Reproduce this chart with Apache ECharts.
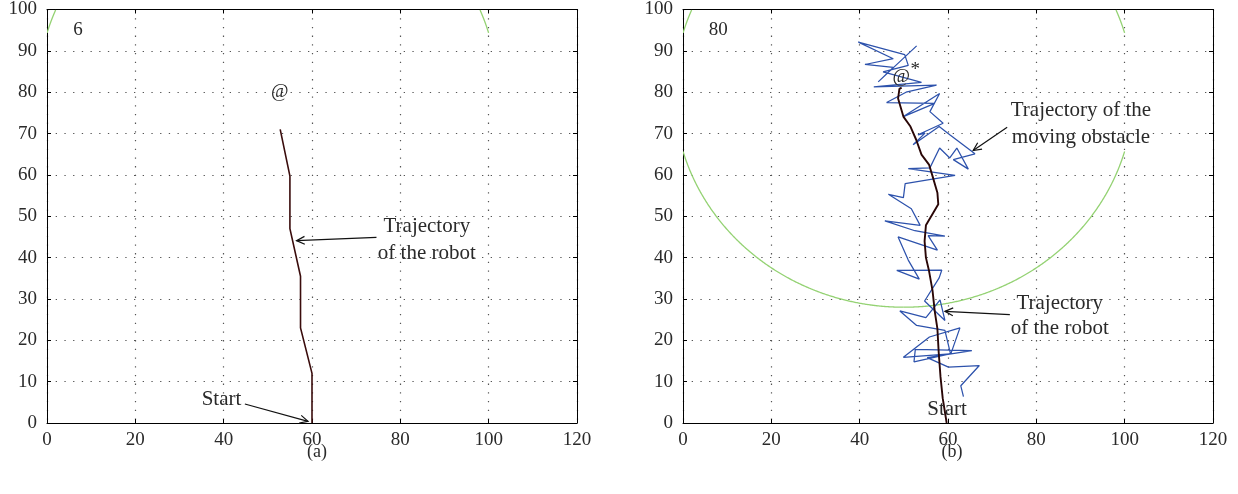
<!DOCTYPE html>
<html>
<head>
<meta charset="utf-8">
<script src="https://cdn.jsdelivr.net/npm/echarts@6/dist/echarts.min.js"></script>
<style>
  html, body { margin: 0; padding: 0; background: #fff; }
  #chart { width: 1238px; height: 494px; }
</style>
</head>
<body>
<div id="chart"></div>
<script>
// ---- data -------------------------------------------------------------
// Robot path at step 6 (panel a)
const robotPathA = [
  [60, 0], [60, 12], [57.4, 23], [57.4, 35.5], [55, 47], [55, 59.7], [52.8, 71]
];
// Robot path at step 80 (panel b)
const robotPathB = [
  [59.7, 0], [58.8, 6], [58.3, 11.2], [57.9, 17], [57.6, 22.8], [57.0, 27],
  [56.5, 32], [55.7, 36.8], [55.0, 40], [54.7, 44], [55.0, 47.8], [57.8, 52.9],
  [57.6, 55.7], [56.5, 59.7], [55.7, 62.5], [54.0, 64.9], [52.8, 68.5],
  [51.5, 71.7], [49.9, 74.1], [48.7, 78.5], [49.0, 80.8], [49.5, 81.1]
];
// Moving obstacle path (panel b)
const obstaclePath = [
  [63.5, 6.4], [62.9, 9.0], [67.1, 13.9], [60.1, 13.5], [55.3, 15.8], [65.4, 17.5],
  [52.6, 17.8], [52.3, 14.8], [60.4, 16.7], [49.9, 15.9], [55.8, 20.8], [62.7, 23.0],
  [60.6, 16.6], [59.3, 22.4], [52.9, 23.6], [49.1, 27.1], [55.0, 25.5], [58.2, 29.8],
  [59.3, 24.8], [54.7, 29.5], [58.0, 35.1], [58.6, 37.0], [48.4, 36.9], [53.5, 34.8],
  [51.0, 39.4], [48.7, 45.0], [57.6, 41.8], [55.5, 45.3], [59.3, 45.2], [52.5, 46.5],
  [45.7, 48.9], [53.7, 47.8], [51.7, 51.8], [46.5, 55.3], [49.9, 54.5], [50.3, 57.9],
  [61.6, 59.9], [51.0, 61.5], [55.9, 61.7], [58.1, 66.5], [60.4, 64.1], [62.0, 66.5],
  [64.6, 61.4], [61.2, 63.7], [66.1, 65.1], [60.4, 69.7], [58.0, 71.7], [52.1, 67.3],
  [54.8, 70.1], [53.2, 69.7], [58.9, 72.5], [55.9, 75.3], [58.1, 79.7], [49.9, 74.1],
  [57.0, 77.3], [46.1, 77.5], [50.5, 80.0], [57.4, 81.7], [43.2, 81.3], [54.0, 82.4],
  [45.3, 84.9], [51.0, 86.5], [50.2, 89.1], [39.7, 92.1], [47.6, 88.1], [41.2, 86.7],
  [47.6, 86.0], [44.2, 82.5], [52.9, 91.2]
];
// Circle around the target: centre and radius, shown for 0 <= x <= 100
const circleCenter = [50, 80];
const circleRadius = 52;

// Axis settings
const xRange = [0, 120];
const yRange = [0, 100];
const xStep = 20;
const yStep = 10;

// Text annotations: [x, y, text, fontSize]
const textsA = [
  [7, 95, '6', 19],
  [52.7, 80, '@', 19],
  [86, 47.5, 'Trajectory', 21],
  [86, 41, 'of the robot', 21],
  [39.5, 5.6, 'Start', 21]
];
const textsB = [
  [8, 95, '80', 19],
  [49.4, 83.7, '@', 19],
  [52.6, 85.3, '*', 19],
  [90.1, 75.5, 'Trajectory of the', 21],
  [90.1, 69.1, 'moving obstacle', 21],
  [85.3, 28.9, 'Trajectory', 21],
  [85.3, 22.9, 'of the robot', 21],
  [59.8, 3.2, 'Start', 21]
];
// Arrows: [fromX, fromY, toX, toY]
const arrowsA = [
  [74.6, 44.9, 56.5, 44.1],
  [44.8, 4.6, 59.1, 0.4]
];
const arrowsB = [
  [73.4, 71.5, 65.7, 65.9],
  [74.0, 26.2, 59.3, 27.0]
];
const panelNames = ['(a)', '(b)'];

// ---- rendering ----------------------------------------------------------
const FONT = '"Liberation Serif", "DejaVu Serif", serif';
const TEXT_COLOR = '#2a2a2a';
const chart = echarts.init(document.getElementById('chart'), null, { renderer: 'canvas' });

const gridDefs = [
  { left: 47, top: 7, width: 530, height: 416 },
  { left: 683, top: 7, width: 530, height: 416 }
];

function mainX(i) {
  return {
    gridIndex: i, type: 'value', min: xRange[0], max: xRange[1], interval: xStep,
    axisLine: { onZero: false, lineStyle: { color: '#000', width: 1 } },
    axisTick: { inside: true, length: 4, lineStyle: { color: '#000' } },
    axisLabel: { color: TEXT_COLOR, fontFamily: FONT, fontSize: 19, margin: 8 },
    splitLine: { show: true, lineStyle: { color: '#555', width: 1.2, type: [1.3, 7.4] } }
  };
}
function mainY(i) {
  return {
    gridIndex: i, type: 'value', min: yRange[0], max: yRange[1], interval: yStep,
    axisLine: { onZero: false, lineStyle: { color: '#000', width: 1 } },
    axisTick: { inside: true, length: 4, lineStyle: { color: '#000' } },
    axisLabel: { color: TEXT_COLOR, fontFamily: FONT, fontSize: 19, margin: 10 },
    splitLine: { show: true, lineStyle: { color: '#555', width: 1.2, type: [1.3, 7.4] } }
  };
}
function frameX(i) {
  return {
    gridIndex: i, type: 'value', position: 'top', min: xRange[0], max: xRange[1], interval: xStep,
    axisLine: { onZero: false, lineStyle: { color: '#000', width: 1 } },
    axisTick: { inside: true, length: 4, lineStyle: { color: '#000' } },
    axisLabel: { show: false }, splitLine: { show: false }
  };
}
function frameY(i) {
  return {
    gridIndex: i, type: 'value', position: 'right', min: yRange[0], max: yRange[1], interval: yStep,
    axisLine: { onZero: false, lineStyle: { color: '#000', width: 1 } },
    axisTick: { inside: true, length: 4, lineStyle: { color: '#000' } },
    axisLabel: { show: false }, splitLine: { show: false }
  };
}

// Circle drawn in data space; keeps the part with 0<=x<=100, y<=100 (and y>=minY)
function circleSeries(panel, minY) {
  return {
    type: 'custom', xAxisIndex: panel * 2, yAxisIndex: panel * 2,
    clip: true, silent: true, z: 2,
    data: [[circleCenter[0], circleCenter[1], circleRadius]],
    renderItem: function (params, api) {
      const cx = api.value(0), cy = api.value(1), r = api.value(2);
      const segs = [];
      let cur = [];
      const N = 1440;
      for (let k = 0; k <= N; k++) {
        const t = (k / N) * Math.PI * 2 - Math.PI / 2;
        const x = cx + r * Math.cos(t), y = cy + r * Math.sin(t);
        const ok = x >= 0 && x <= 100 && y <= 100 && y >= minY;
        if (ok) { cur.push(api.coord([x, y])); }
        else if (cur.length) { segs.push(cur); cur = []; }
      }
      if (cur.length) segs.push(cur);
      return {
        type: 'group',
        children: segs.map(function (pts) {
          return { type: 'polyline', shape: { points: pts },
                   style: { stroke: '#94d273', lineWidth: 1.3, fill: null } };
        })
      };
    }
  };
}

function pathSeries(panel, data, color, width, z) {
  return {
    type: 'line', xAxisIndex: panel * 2, yAxisIndex: panel * 2,
    data: data, showSymbol: false, symbol: 'none', smooth: false, z: z,
    lineStyle: { color: color, width: width }, animation: false, silent: true
  };
}

function textSeries(panel, items) {
  return {
    type: 'custom', xAxisIndex: panel * 2, yAxisIndex: panel * 2, clip: false, z: 10,
    data: items.map(function (d) { return [d[0], d[1]]; }),
    renderItem: function (params, api) {
      const p = api.coord([api.value(0), api.value(1)]);
      const it = items[params.dataIndex];
      return {
        type: 'text', x: p[0], y: p[1],
        style: { text: it[2], fill: TEXT_COLOR, font: it[3] + 'px ' + FONT,
                 textAlign: 'center', textVerticalAlign: 'middle' }
      };
    }
  };
}

function arrowSeries(panel, items) {
  return {
    type: 'custom', xAxisIndex: panel * 2, yAxisIndex: panel * 2, clip: false, z: 9,
    data: items,
    encode: { x: [0, 2], y: [1, 3] },
    renderItem: function (params, api) {
      const a = api.coord([api.value(0), api.value(1)]);
      const b = api.coord([api.value(2), api.value(3)]);
      const ang = Math.atan2(b[1] - a[1], b[0] - a[0]);
      const L = 9, w = 0.45;
      const h1 = [b[0] - L * Math.cos(ang - w), b[1] - L * Math.sin(ang - w)];
      const h2 = [b[0] - L * Math.cos(ang + w), b[1] - L * Math.sin(ang + w)];
      const st = { stroke: '#111', lineWidth: 1.2, fill: null };
      return {
        type: 'group',
        children: [
          { type: 'line', shape: { x1: a[0], y1: a[1], x2: b[0], y2: b[1] }, style: st },
          { type: 'polyline', shape: { points: [h1, b, h2] }, style: st }
        ]
      };
    }
  };
}

const option = {
  animation: false,
  backgroundColor: '#fff',
  title: [
    { text: panelNames[0], left: 312, top: 438, textAlign: 'center',
      textStyle: { fontFamily: FONT, fontSize: 18, fontWeight: 'normal', color: TEXT_COLOR } },
    { text: panelNames[1], left: 947, top: 438, textAlign: 'center',
      textStyle: { fontFamily: FONT, fontSize: 18, fontWeight: 'normal', color: TEXT_COLOR } }
  ],
  grid: gridDefs.map(function (g) { return Object.assign({ show: false, containLabel: false }, g); }),
  xAxis: [mainX(0), frameX(0), mainX(1), frameX(1)],
  yAxis: [mainY(0), frameY(0), mainY(1), frameY(1)],
  series: [
    circleSeries(0, circleCenter[1]),
    pathSeries(0, robotPathA, '#3a0c0c', 1.6, 5),
    textSeries(0, textsA),
    arrowSeries(0, arrowsA),

    circleSeries(1, -1),
    pathSeries(1, obstaclePath, '#2d52ac', 1.25, 4),
    pathSeries(1, robotPathB, '#2a0707', 1.9, 5),
    textSeries(1, textsB),
    arrowSeries(1, arrowsB)
  ]
};
chart.setOption(option);
</script>
</body>
</html>
